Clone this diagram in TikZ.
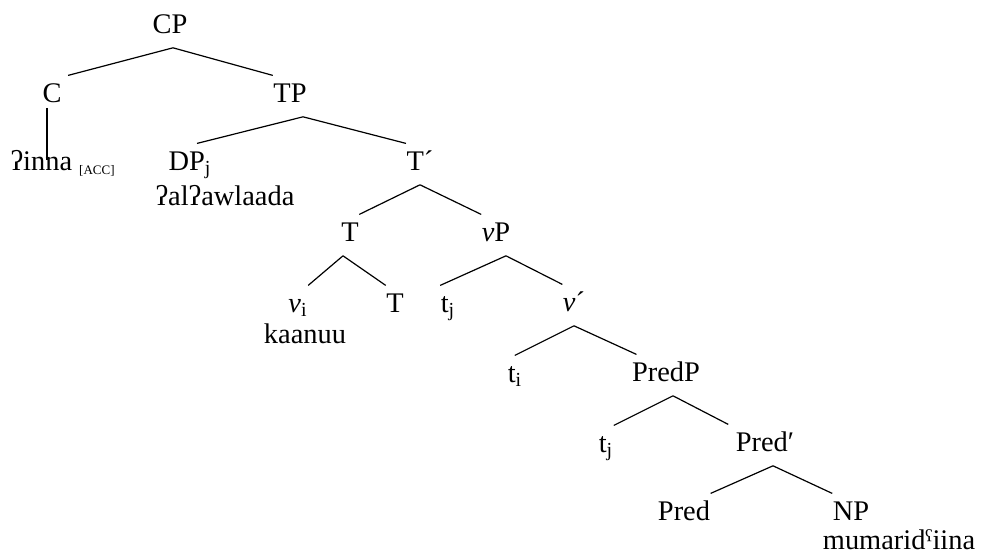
\documentclass[tikz,border=0pt]{standalone}
\usepackage{fontspec}
\setmainfont{Liberation Serif}
\usetikzlibrary{positioning}

\begin{document}
\begin{tikzpicture}[x=0.5pt, y=-0.5pt, font=\fontsize{14.2}{17}\selectfont,
    cat/.style={anchor=base, inner xsep=0pt, inner ysep=3.6pt, text height=9.4pt, text depth=3.5pt},
    word/.style={anchor=base, inner sep=0pt},
    every path/.style={line width=0.6pt}]
  \useasboundingbox (0,0) rectangle (982,554);

  % category labels
  \node[cat] (CP) at (170,33) {CP};
  \node[cat] (C) at (52,102) {C};
  \node[cat] (TP) at (290,102) {TP};
  \node[cat, anchor=base west] (DP) at (168,170) {DP\textsubscript{j}};
  \node[cat] (Tbar) at (420,170) {T´};
  \node[cat] (T) at (350,241) {T};
  \node[cat] (vP) at (496,241) {\textit{v}P};
  \node[cat] (v) at (298,312) {\textit{v}\textsubscript{i}};
  \node[cat] (Thead) at (395,312) {T};
  \node[cat] (tj) at (448,312) {t\textsubscript{j}};
  \node[cat] (vbar) at (574,311) {\textit{v}´};
  \node[cat] (ti) at (515,382) {t\textsubscript{i}};
  \node[cat] (PredP) at (666,381) {PredP};
  \node[cat] (tjlow) at (606,452) {t\textsubscript{j}};
  \node[cat] (Predbar) at (765,451) {Pred′};
  \node[cat] (Pred) at (684,520) {Pred};
  \node[cat] (NP) at (851,520) {NP};

  % words
  \node[word, anchor=base west, text height=4.5pt] (inna) at (10,170)
    {ʔinna {\fontsize{6.5}{7}\selectfont\raisebox{-2pt}{[ACC]}}};
  \node[word, anchor=base west] (al) at (155,205) {ʔalʔawlaada};
  \node[word] (kaanuu) at (305,343) {kaanuu};
  \node[word] (mumar) at (899,549) {mumaridˤiina};

  % branches
  \draw ([xshift=1.5pt]CP.south) -- ([xshift=3pt]C.north east);
  \draw ([xshift=1.5pt]CP.south) -- (TP.north west);
  \draw ([xshift=-2.5pt,yshift=4.5pt]C.south) -- ([xshift=-2.5pt]C.south |- inna.north);
  \draw ([xshift=6.5pt]TP.south) -- ([xshift=-7.5pt]DP.north east);
  \draw ([xshift=6.5pt]TP.south) -- (Tbar.north west);
  \draw (Tbar.south) -- (T.north east);
  \draw (Tbar.south) -- (vP.north west);
  \draw ([xshift=-3.5pt]T.south) -- (v.north east);
  \draw ([xshift=-3.5pt]T.south) -- (Thead.north west);
  \draw ([xshift=5pt]vP.south) -- (tj.north west);
  \draw ([xshift=5pt]vP.south) -- (vbar.north west);
  \draw (vbar.south) -- ([xshift=-4pt]ti.north east);
  \draw (vbar.south) -- ([xshift=2.5pt]PredP.north west);
  \draw ([xshift=3.5pt]PredP.south) -- (tjlow.north east);
  \draw ([xshift=3.5pt]PredP.south) -- ([xshift=-3.5pt]Predbar.north west);
  \draw ([xshift=4pt]Predbar.south) -- (Pred.north east);
  \draw ([xshift=4pt]Predbar.south) -- (NP.north west);
\end{tikzpicture}
\end{document}
